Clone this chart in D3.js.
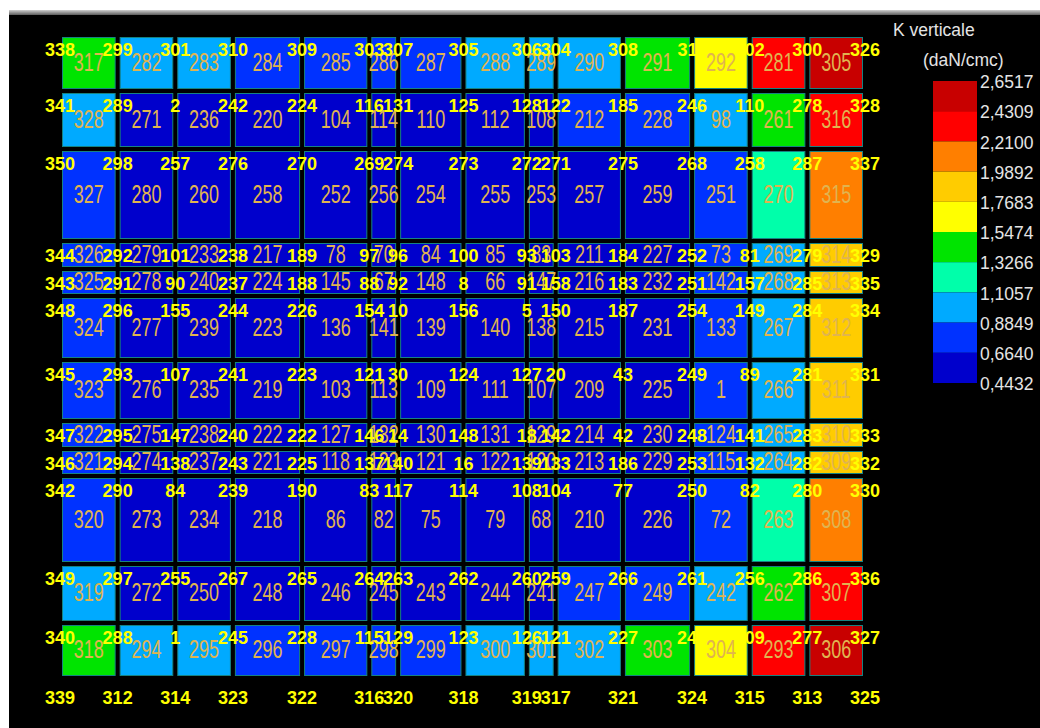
<!DOCTYPE html>
<html>
<head>
<meta charset="utf-8">
<script src="https://cdn.jsdelivr.net/npm/d3@7"></script>
<style>
  html, body { margin: 0; padding: 0; background: #fff; }
  svg { display: block; }
  text { font-family: 'Liberation Sans', Arial, sans-serif; }
</style>
</head>
<body>
<svg width="1040" height="728"></svg>
<script>
// mesh node coordinates (cm)
const nodeX = [0, 60, 120, 180, 252, 322, 352, 420, 486, 516, 586, 658, 718, 778, 838];
const nodeY = [0, 56, 114, 206, 234, 261, 325, 386, 414, 441, 529, 588, 643];

// node numbers, one row per mesh line (top to bottom)
const nodeIds = [
  [338, 299, 301, 310, 309, 303, 307, 305, 306, 304, 308, 311, 302, 300, 326],
  [341, 289, 2, 242, 224, 116, 131, 125, 128, 122, 185, 246, 110, 278, 328],
  [350, 298, 257, 276, 270, 269, 274, 273, 272, 271, 275, 268, 258, 287, 337],
  [344, 292, 101, 238, 189, 97, 96, 100, 93, 103, 184, 252, 81, 279, 329],
  [343, 291, 90, 237, 188, 88, 92, 8, 91, 158, 183, 251, 157, 285, 335],
  [348, 296, 155, 244, 226, 154, 10, 156, 5, 150, 187, 254, 149, 284, 334],
  [345, 293, 107, 241, 223, 121, 30, 124, 127, 20, 43, 249, 89, 281, 331],
  [347, 295, 147, 240, 222, 146, 14, 148, 18, 142, 42, 248, 141, 283, 333],
  [346, 294, 138, 243, 225, 137, 140, 16, 139, 133, 186, 253, 132, 282, 332],
  [342, 290, 84, 239, 190, 83, 117, 114, 108, 104, 77, 250, 82, 280, 330],
  [349, 297, 255, 267, 265, 264, 263, 262, 260, 259, 266, 261, 256, 286, 336],
  [340, 288, 1, 245, 228, 115, 129, 123, 126, 121, 227, 247, 109, 277, 327],
  [339, 312, 314, 323, 322, 316, 320, 318, 319, 317, 321, 324, 315, 313, 325]
];

// element numbers
const elemIds = [
  [317, 282, 283, 284, 285, 286, 287, 288, 289, 290, 291, 292, 281, 305],
  [328, 271, 236, 220, 104, 114, 110, 112, 108, 212, 228, 98, 261, 316],
  [327, 280, 260, 258, 252, 256, 254, 255, 253, 257, 259, 251, 270, 315],
  [326, 279, 233, 217, 78, 70, 84, 85, 83, 211, 227, 73, 269, 314],
  [325, 278, 240, 224, 145, 67, 148, 66, 147, 216, 232, 142, 268, 313],
  [324, 277, 239, 223, 136, 141, 139, 140, 138, 215, 231, 133, 267, 312],
  [323, 276, 235, 219, 103, 113, 109, 111, 107, 209, 225, 1, 266, 311],
  [322, 275, 238, 222, 127, 132, 130, 131, 129, 214, 230, 124, 265, 310],
  [321, 274, 237, 221, 118, 123, 121, 122, 120, 213, 229, 115, 264, 309],
  [320, 273, 234, 218, 86, 82, 75, 79, 68, 210, 226, 72, 263, 308],
  [319, 272, 250, 248, 246, 245, 243, 244, 241, 247, 249, 242, 262, 307],
  [318, 294, 295, 296, 297, 298, 299, 300, 301, 302, 303, 304, 293, 306]
];

// K verticale per element (daN/cmc)
const kValues = [
  [1.44, 1.00, 0.98, 0.80, 0.76, 0.74, 0.76, 0.98, 1.00, 1.02, 1.45, 1.66, 2.33, 2.60],
  [1.02, 0.56, 0.52, 0.50, 0.48, 0.47, 0.48, 0.50, 0.52, 0.70, 0.72, 0.95, 1.40, 2.30],
  [0.72, 0.58, 0.55, 0.54, 0.53, 0.52, 0.52, 0.53, 0.54, 0.55, 0.58, 0.76, 1.22, 2.08],
  [0.70, 0.56, 0.54, 0.52, 0.50, 0.49, 0.49, 0.50, 0.52, 0.54, 0.56, 0.74, 1.00, 1.86],
  [0.70, 0.56, 0.54, 0.52, 0.50, 0.49, 0.49, 0.50, 0.52, 0.54, 0.56, 0.74, 1.00, 1.86],
  [0.71, 0.57, 0.55, 0.53, 0.51, 0.50, 0.50, 0.51, 0.53, 0.55, 0.57, 0.75, 1.02, 1.88],
  [0.71, 0.57, 0.55, 0.53, 0.51, 0.50, 0.50, 0.51, 0.53, 0.55, 0.57, 0.75, 1.02, 1.88],
  [0.70, 0.56, 0.54, 0.52, 0.50, 0.49, 0.49, 0.50, 0.52, 0.54, 0.56, 0.74, 1.00, 1.86],
  [0.70, 0.56, 0.54, 0.52, 0.50, 0.49, 0.49, 0.50, 0.52, 0.54, 0.56, 0.74, 1.00, 1.86],
  [0.72, 0.58, 0.55, 0.54, 0.53, 0.52, 0.52, 0.53, 0.54, 0.55, 0.58, 0.76, 1.22, 2.08],
  [1.02, 0.56, 0.52, 0.50, 0.48, 0.47, 0.48, 0.50, 0.52, 0.70, 0.72, 0.95, 1.40, 2.30],
  [1.44, 1.00, 0.98, 0.80, 0.76, 0.74, 0.76, 0.98, 1.00, 1.02, 1.45, 1.66, 2.33, 2.65]
];

const legendTicks = [2.6517, 2.4309, 2.2100, 1.9892, 1.7683, 1.5474, 1.3266, 1.1057, 0.8849, 0.6640, 0.4432];
const legendColors = ['#c80000', '#ff0000', '#ff7f00', '#ffcc00', '#ffff00',
  '#00e400', '#00ffaa', '#00aaff', '#0032ff', '#0000cc'];

const svg = d3.select('svg');
const width = +svg.attr('width');
const height = +svg.attr('height');

// window background
const grad = svg.append('defs').append('linearGradient')
  .attr('id', 'bar').attr('x1', 0).attr('x2', 0).attr('y1', 0).attr('y2', 1);
grad.append('stop').attr('offset', '0%').attr('stop-color', '#d0d0d0');
grad.append('stop').attr('offset', '100%').attr('stop-color', '#5c5c5c');
svg.append('rect').attr('x', 9).attr('y', 10).attr('width', width - 9).attr('height', 5)
  .attr('fill', 'url(#bar)');
svg.append('rect').attr('x', 9).attr('y', 15).attr('width', width - 9).attr('height', height - 15)
  .attr('fill', '#000');

const x = d3.scaleLinear().domain([0, d3.max(nodeX)]).range([60, 865]);
const y = d3.scaleLinear().domain([0, d3.max(nodeY)]).range([35, 678]);

const color = d3.scaleThreshold()
  .domain(legendTicks.slice(1, -1).reverse())
  .range(legendColors.slice().reverse());

const elements = [];
elemIds.forEach((row, i) =>
  row.forEach((id, j) =>
    elements.push({
      id,
      k: kValues[i][j],
      x0: nodeX[j], x1: nodeX[j + 1],
      y0: nodeY[i], y1: nodeY[i + 1]
    })
  )
);

const nodes = [];
nodeIds.forEach((row, i) =>
  row.forEach((id, j) => nodes.push({ id, x: nodeX[j], y: nodeY[i] }))
);

const inset = 2.5;
const g = svg.append('g');

// Elements
g.append('g')
  .selectAll('rect')
  .data(elements)
  .join('rect')
  .attr('x', d => x(d.x0) + inset)
  .attr('y', d => y(d.y0) + inset)
  .attr('width', d => x(d.x1) - x(d.x0) - 2 * inset)
  .attr('height', d => y(d.y1) - y(d.y0) - 2 * inset)
  .attr('fill', d => color(d.k))
  .attr('stroke', '#178282')
  .attr('stroke-width', 1);

// Element numbers
g.append('g')
  .selectAll('text')
  .data(elements)
  .join('text')
  .attr('transform', d =>
    `translate(${(x(d.x0) + x(d.x1)) / 2},${(y(d.y0) + y(d.y1)) / 2 - 1}) scale(0.72,1)`)
  .attr('text-anchor', 'middle')
  .attr('dy', '0.35em')
  .attr('font-size', 25)
  .attr('fill', '#e0b450')
  .text(d => d.id);

// Node numbers (bottom line is labelled a bit lower)
const bottom = d3.max(nodeY);
g.append('g')
  .selectAll('text')
  .data(nodes)
  .join('text')
  .attr('x', d => x(d.x))
  .attr('y', d => y(d.y) + (d.y === bottom ? 20 : 15))
  .attr('dy', '0.35em')
  .attr('text-anchor', 'middle')
  .attr('font-size', 18)
  .attr('font-weight', 'bold')
  .attr('fill', '#ffff00')
  .text(d => d.id);

// Legend
const ly = d3.scaleLinear()
  .domain([legendTicks[0], legendTicks[legendTicks.length - 1]])
  .range([81, 383]);

const legend = svg.append('g');
legend.selectAll('rect')
  .data(d3.pairs(legendTicks))
  .join('rect')
  .attr('x', 933)
  .attr('y', d => ly(d[0]))
  .attr('width', 44)
  .attr('height', d => ly(d[1]) - ly(d[0]))
  .attr('fill', (d, i) => legendColors[i]);

const locale = d3.formatLocale({ decimal: ',', thousands: '.', grouping: [3], currency: ['', ''] });

legend.append('g')
  .attr('transform', 'translate(977,1)')
  .call(d3.axisRight(ly).tickValues(legendTicks).tickSize(0).tickPadding(3)
    .tickFormat(locale.format('.4f')))
  .call(a => a.select('.domain').remove())
  .selectAll('text')
  .attr('fill', '#e4e4e4')
  .attr('font-size', 17.5)
  .attr('font-family', "'Liberation Sans', Arial, sans-serif");

legend.append('text')
  .attr('x', 893).attr('y', 30).attr('dy', '0.35em')
  .attr('font-size', 17.5).attr('fill', '#e4e4e4')
  .text('K verticale');

legend.append('text')
  .attr('x', 923).attr('y', 60).attr('dy', '0.35em')
  .attr('font-size', 17.5).attr('fill', '#e4e4e4')
  .text('(daN/cmc)');
</script>
</body>
</html>
